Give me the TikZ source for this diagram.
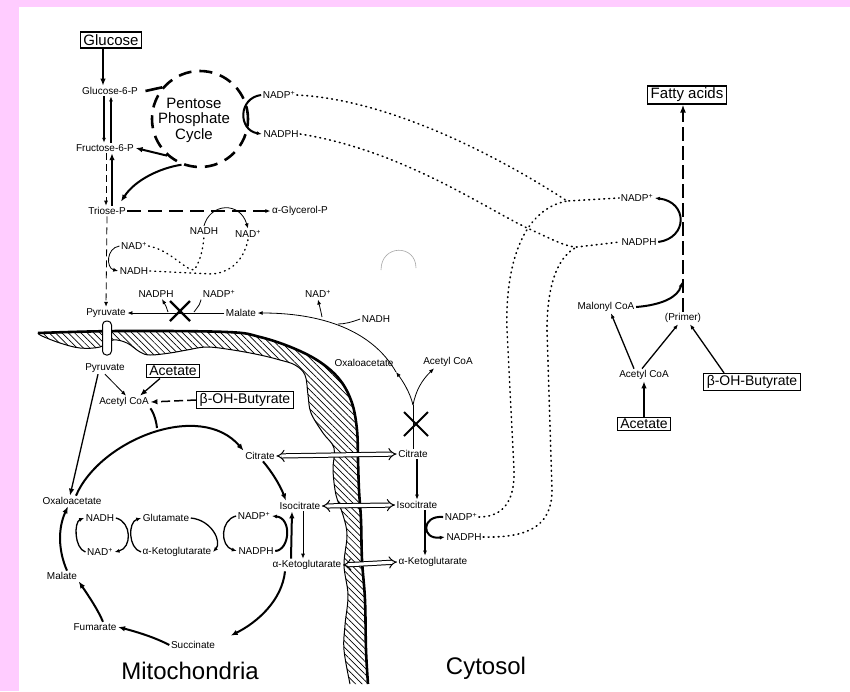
\documentclass[tikz,border=0pt]{standalone}
\usepackage{fontspec}
\setmainfont{Liberation Sans}
\usetikzlibrary{arrows.meta,patterns.meta,calc}
\definecolor{bgpink}{RGB}{255,204,255}
\begin{document}
\begin{tikzpicture}[x=1pt,y=-1pt,
 lbl/.style={font=\fontsize{10}{11}\selectfont, inner sep=1.5pt},
 boxl/.style={draw, line width=1.2pt, font=\fontsize{14}{15}\selectfont, inner xsep=3pt, inner ysep=2pt},
 big/.style={font=\fontsize{24}{26}\selectfont},
 thk/.style={line width=2pt},
 med/.style={line width=1.3pt},
 thn/.style={line width=0.8pt},
 tipl/.style={-{Latex[length=7pt,width=5.5pt]}},
 tips/.style={-{Latex[length=5pt,width=4pt]}},
 dotl/.style={line width=1.6pt, dash pattern=on 0.8pt off 4.2pt, line cap=round},
 dashone/.style={dash pattern=on 7pt off 4pt},
 hollow/.style={double, double distance=3.2pt, line width=1pt, {Implies[length=6pt]}-{Implies[length=6pt]}},
]
\useasboundingbox (0,0) rectangle (850,691);
\fill[bgpink] (0,0) rectangle (850,691);
\fill[white] (19,7) rectangle (850,691);

% ---------- membrane ----------
\fill[pattern={Lines[angle=-45,distance=4.5pt,line width=0.7pt]}]
 plot[smooth, tension=0.6] coordinates {(38,333) (120,331) (227,332) (260,337) (293,348) (320,362) (340,380) (352,403) (357,430) (358,460) (359,490) (361,520) (362,560) (365,600) (366,650) (368,684)}
 -- plot[smooth, tension=0.6] coordinates {(350,684) (344,650) (345,625) (348,595) (344,565) (347,535) (343,515) (336,495) (333,470) (334,448) (323,433) (311,413) (308,395) (305,375) (295,365) (280,360) (260,355) (233,350) (207,347) (187,350) (170,353) (150,355) (140,352) (127,343) (113,340) (100,347) (80,348) (60,343) (42,336)} -- cycle;
\draw[line width=2.6pt] plot[smooth, tension=0.6] coordinates {(38,333) (120,331) (227,332) (260,337) (293,348) (320,362) (340,380) (352,403) (357,430) (358,460) (359,490) (361,520) (362,560) (365,600) (366,650) (368,684)};
\draw[line width=1pt] plot[smooth, tension=0.6] coordinates {(350,684) (344,650) (345,625) (348,595) (344,565) (347,535) (343,515) (336,495) (333,470) (334,448) (323,433) (311,413) (308,395) (305,375) (295,365) (280,360) (260,355) (233,350) (207,347) (187,350) (170,353) (150,355) (140,352) (127,343) (113,340) (100,347) (80,348) (60,343) (42,336) (38,333)};
\node[draw, fill=white, rounded corners=4pt, minimum width=9pt, minimum height=34pt, inner sep=0pt, line width=1pt] (chan) at (107,338) {};

% faint arc
\draw[gray!70, line width=0.6pt] (381,270) .. controls (381,244) and (416,244) .. (416,268);

% ---------- glycolysis / pentose ----------
\node[boxl, font=\fontsize{15}{16}\selectfont, inner ysep=2.5pt] (glc) at (111,40) {Glucose};
\node[lbl] (g6p) at (110,91) {Glucose-6-P};
\node[lbl] (f6p) at (105,148) {Fructose-6-P};
\node[lbl] (trp) at (107,211) {Triose-P};
\node[lbl] (gly) at (300,211) {α-Glycerol-P};
\node[circle, draw, line width=2.6pt, dash pattern=on 13pt off 8pt, minimum size=96pt, inner sep=0pt] (pcycle) at (200,119) {};
\node[font=\fontsize{15}{15.5}\selectfont, align=center] (ppc) at (194,120) {Pentose\\Phosphate\\Cycle};
\node[lbl] (pnadp) at (279,95) {NADP\textsuperscript{+}};
\node[lbl] (pnadph) at (281,134) {NADPH};

\draw[med, tipl] ([xshift=-8pt]glc.south) -- ([xshift=-7pt]g6p.north);
\draw[med, tips] ([xshift=-6pt]g6p.south) -- ([xshift=-1pt]f6p.north);
\draw[med, tips] ([xshift=6pt]f6p.north) -- ([xshift=1pt]g6p.south);
\draw[thn, dashone, tips] ([xshift=1pt]f6p.south) -- ([xshift=-1pt]trp.north);
\draw[med, tipl] ([xshift=5pt]trp.north) -- ([xshift=7pt]f6p.south);
\draw[line width=2.6pt] ([xshift=6pt]g6p.east) -- (pcycle.140);
\draw[thk, tipl] (pcycle.228) -- (f6p.east);
\draw[thk, tipl] (pcycle.248) .. controls (160,168) and (135,180) .. ([shift={(14pt,4pt)}]trp.north);
\draw[thk, tips] (pnadp.west) .. controls (238,98) and (238,130) .. (pnadph.west);
\draw[line width=1.4pt, dash pattern=on 14pt off 7pt, tips] (trp.east) -- (gly.west);

% ---------- NAD shuttle ----------
\node[lbl] (nadh1) at (204,231) {NADH};
\node[lbl] (nad1) at (248,234) {NAD\textsuperscript{+}};
\node[lbl] (nad2) at (134,246) {NAD\textsuperscript{+}};
\node[lbl] (nadh2) at (134,271) {NADH};
\draw[thn, tips] (nadh1.north) .. controls (210,203) and (240,201) .. (nad1.north);
\draw[thn, tips] (nad2.west) .. controls (106,248) and (106,268) .. (nadh2.west);
\draw[dotl, line width=1.4pt] (nad2.east) .. controls (170,250) and (185,270) .. (194,270) .. controls (200,262) and (203,250) .. (nadh1.south);
\draw[dotl, line width=1.4pt] (nadh2.east) -- (212,274) .. controls (235,272) and (245,255) .. (nad1.south);

% ---------- malic enzyme row ----------
\node[lbl] (pyr1) at (106,313) {Pyruvate};
\node[lbl] (nadph3) at (156,294) {NADPH};
\node[lbl] (nadp3) at (219,294) {NADP\textsuperscript{+}};
\node[lbl] (mal1) at (241,313) {Malate};
\draw[thn, dashone, tips] (trp.south) -- (pyr1.north);
\draw[thn, tips] (mal1.west) -- (pyr1.east);
\coordinate (x1) at (180,311);
\draw[line width=2.4pt] ([shift={(-10pt,-10pt)}]x1) -- ([shift={(10pt,10pt)}]x1);
\draw[line width=2.4pt] ([shift={(-10pt,10pt)}]x1) -- ([shift={(10pt,-10pt)}]x1);
\coordinate (b1) at (194,312);
\coordinate (b2) at (168,312);
\draw[thn] (nadp3.south west) .. controls (200,304) .. (b1);
\draw[thn, tips] (b2) .. controls (166,306) .. ([xshift=6pt]nadph3.south);

% ---------- cytosol citrate branch ----------
\node[lbl] (nad4) at (318,294) {NAD\textsuperscript{+}};
\node[lbl] (nadh4) at (376,319) {NADH};
\node[lbl] (oaa1) at (364,363) {Oxaloacetate};
\node[lbl] (aco1) at (448,362) {Acetyl CoA};
\node[lbl] (cit1) at (413,454) {Citrate};
\node[lbl] (iso1) at (417,505) {Isocitrate};
\node[lbl] (nadp5) at (461,517) {NADP\textsuperscript{+}};
\node[lbl] (nadph5) at (464,537) {NADPH};
\node[lbl] (akg1) at (433,562) {α-Ketoglutarate};
\coordinate (jn) at (413,405);
\coordinate (oa) at (396,372);
\coordinate (a1) at (338,324);
\coordinate (a2) at (322,317);
\draw[thn] (cit1.north) -- (jn);
\draw[thn, tips] (jn) .. controls (410,392) and (402,380) .. (oa);
\draw[thn, tips] (oa) .. controls (375,335) and (330,313) .. (mal1.east);
\draw[thn, tips] (jn) .. controls (416,390) and (422,380) .. ([xshift=-14pt]aco1.south);
\draw[thn] (nadh4.west) .. controls (352,322) and (345,324) .. (a1);
\draw[thn, tips] (a2) .. controls (321,312) .. (nad4.south);
\coordinate (x2) at (416,424);
\draw[line width=1.8pt] ([shift={(-12pt,-12pt)}]x2) -- ([shift={(12pt,12pt)}]x2);
\draw[line width=1.8pt] ([shift={(-12pt,12pt)}]x2) -- ([shift={(12pt,-12pt)}]x2);
\draw[med, tips] ([xshift=4pt]cit1.south) -- (iso1.north);
\draw[med, tips] ([xshift=8pt]iso1.south) -- ([xshift=-8pt]akg1.north);
\draw[thk, tips] (nadp5.west) .. controls (421,515) and (421,540) .. (nadph5.west);

% ---------- fatty acid synthesis ----------
\node[boxl, font=\fontsize{15}{16}\selectfont] (fa) at (687,95) {Fatty acids};
\node[lbl] (nadp8) at (637,198) {NADP\textsuperscript{+}};
\node[lbl] (nadph8) at (639,242) {NADPH};
\node[lbl] (malco) at (606,307) {Malonyl CoA};
\node[lbl] (primer) at (683,318) {(Primer)};
\node[lbl] (aco3) at (644,375) {Acetyl CoA};
\node[boxl] (bohb2) at (752,382) {β-OH-Butyrate};
\node[boxl] (acet2) at (644,424) {Acetate};
\draw[line width=2.2pt, dash pattern=on 14pt off 5pt, -{Latex[length=8pt,width=6pt]}] (primer.north) -- (primer.north |- fa.south);
\draw[thk, tips] (nadph8.east) .. controls (688,238) and (688,202) .. (nadp8.east);
\coordinate (m1) at (682,282);
\draw[thk, tips] (malco.east) .. controls (662,305) and (678,297) .. (m1);
\draw[med, tips] ([xshift=-10pt]aco3.north) -- ([xshift=5pt]malco.south);
\draw[med, tips] ([xshift=-2pt]aco3.north) -- ([xshift=-5pt]primer.south);
\draw[med, tips] ([xshift=-28pt]bohb2.north) -- ([xshift=7pt]primer.south);
\draw[med, tipl] (acet2.north) -- (aco3.south);

% ---------- dotted NADPH connections ----------
\coordinate (j1) at (567,201);
\coordinate (j2) at (577,247);
\draw[dotl] (pnadp.east) .. controls (400,100) and (520,170) .. (j1) -- (nadp8.west);
\draw[dotl] (pnadph.east) .. controls (400,150) and (480,205) .. (527,228) .. controls (550,238) and (565,247) .. (j2) -- (nadph8.west);
\draw[dotl] (nadp5.east) .. controls (500,517) and (515,505) .. (514,470) -- (507,330) .. controls (505,270) and (520,210) .. (j1);
\draw[dotl] (nadph5.east) .. controls (530,538) and (552,525) .. (552,490) -- (547,330) .. controls (547,280) and (560,255) .. (j2);

% ---------- mitochondria ----------
\node[lbl] (pyr2) at (105,368) {Pyruvate};
\node[boxl] (acet1) at (173,371) {Acetate};
\node[boxl] (bohb1) at (245,400) {β-OH-Butyrate};
\node[lbl] (aco2) at (124,402) {Acetyl CoA};
\node[lbl] (oaa2) at (72,501) {Oxaloacetate};
\node[lbl] (cit2) at (260,456) {Citrate};
\node[lbl] (iso2) at (300,506) {Isocitrate};
\node[lbl] (nadp6) at (254,516) {NADP\textsuperscript{+}};
\node[lbl] (nadph6) at (256,551) {NADPH};
\node[lbl] (glu) at (166,518) {Glutamate};
\node[lbl] (akg2) at (177,552) {α-Ketoglutarate};
\node[lbl] (nadh7) at (100,518) {NADH};
\node[lbl] (nad7) at (100,552) {NAD\textsuperscript{+}};
\node[lbl] (mal2) at (62,576) {Malate};
\node[lbl] (fum) at (95,627) {Fumarate};
\node[lbl] (suc) at (193,645) {Succinate};
\node[lbl] (akg3) at (307,565) {α-Ketoglutarate};

\draw[thn, tips] (pyr2.south) -- ([xshift=2pt]aco2.north);
\draw[med, tipl] ([xshift=-13pt]acet1.south) -- ([xshift=16pt]aco2.north);
\draw[line width=1.5pt, dash pattern=on 9pt off 4pt, tipl] (bohb1.west) -- (aco2.east);
\draw[med, tipl] ([xshift=-7pt]pyr2.south) -- ([xshift=-2pt]oaa2.north);

\draw[thk, tipl] ([xshift=4pt]oaa2.north) .. controls (100,440) and (200,400) .. (cit2.north west);
\coordinate (ac1) at (157,428);
\draw[thk] (aco2.south east) .. controls (152,410) and (156,418) .. (ac1);
\draw[thk, tipl] ([xshift=3pt]cit2.south) .. controls (272,472) and (280,485) .. ([xshift=-14pt]iso2.north);
\draw[thn, tips] ([xshift=3pt]iso2.south) -- ([xshift=-4pt]akg3.north);
\draw[thk, tipl] ([xshift=-16pt]akg3.north) -- ([xshift=-8pt]iso2.south);
\draw[thk, tips] (nadph6.east) .. controls (290,550) and (292,518) .. (nadp6.east);
\draw[thk, tipl] ([xshift=-22pt]akg3.south) .. controls (282,600) and (258,622) .. ([shift={(14pt,4pt)}]suc.north east);
\draw[thk, tipl] (suc.west) .. controls (160,640) and (145,634) .. (fum.east);
\draw[thk, tipl] ([xshift=8pt]fum.north) .. controls (98,610) and (90,598) .. (mal2.south east);
\draw[thk, tipl] ([xshift=5pt]mal2.north) .. controls (58,550) and (58,528) .. ([xshift=-4pt]oaa2.south);
\draw[med, tips] (nad7.west) .. controls (74,548) and (74,522) .. (nadh7.west);
\draw[med, tips] (nadh7.east) .. controls (132,522) and (132,548) .. (nad7.east);
\draw[med, tips] (akg2.west) .. controls (128,548) and (128,522) .. (glu.west);
\draw[med, tips] (glu.east) .. controls (212,520) and (222,542) .. (akg2.east);
\draw[med, tips] (nadp6.west) .. controls (220,520) and (220,546) .. (nadph6.west);

% ---------- transport across membrane ----------
\draw[hollow] (cit2.east) -- (cit1.west);
\draw[hollow] (iso2.east) -- (iso1.west);
\draw[hollow] (akg3.east) -- (akg1.west);

\node[big] (mito) at (190,671) {Mitochondria};
\node[big] (cyto) at (486,668) {Cytosol};
\end{tikzpicture}
\end{document}
